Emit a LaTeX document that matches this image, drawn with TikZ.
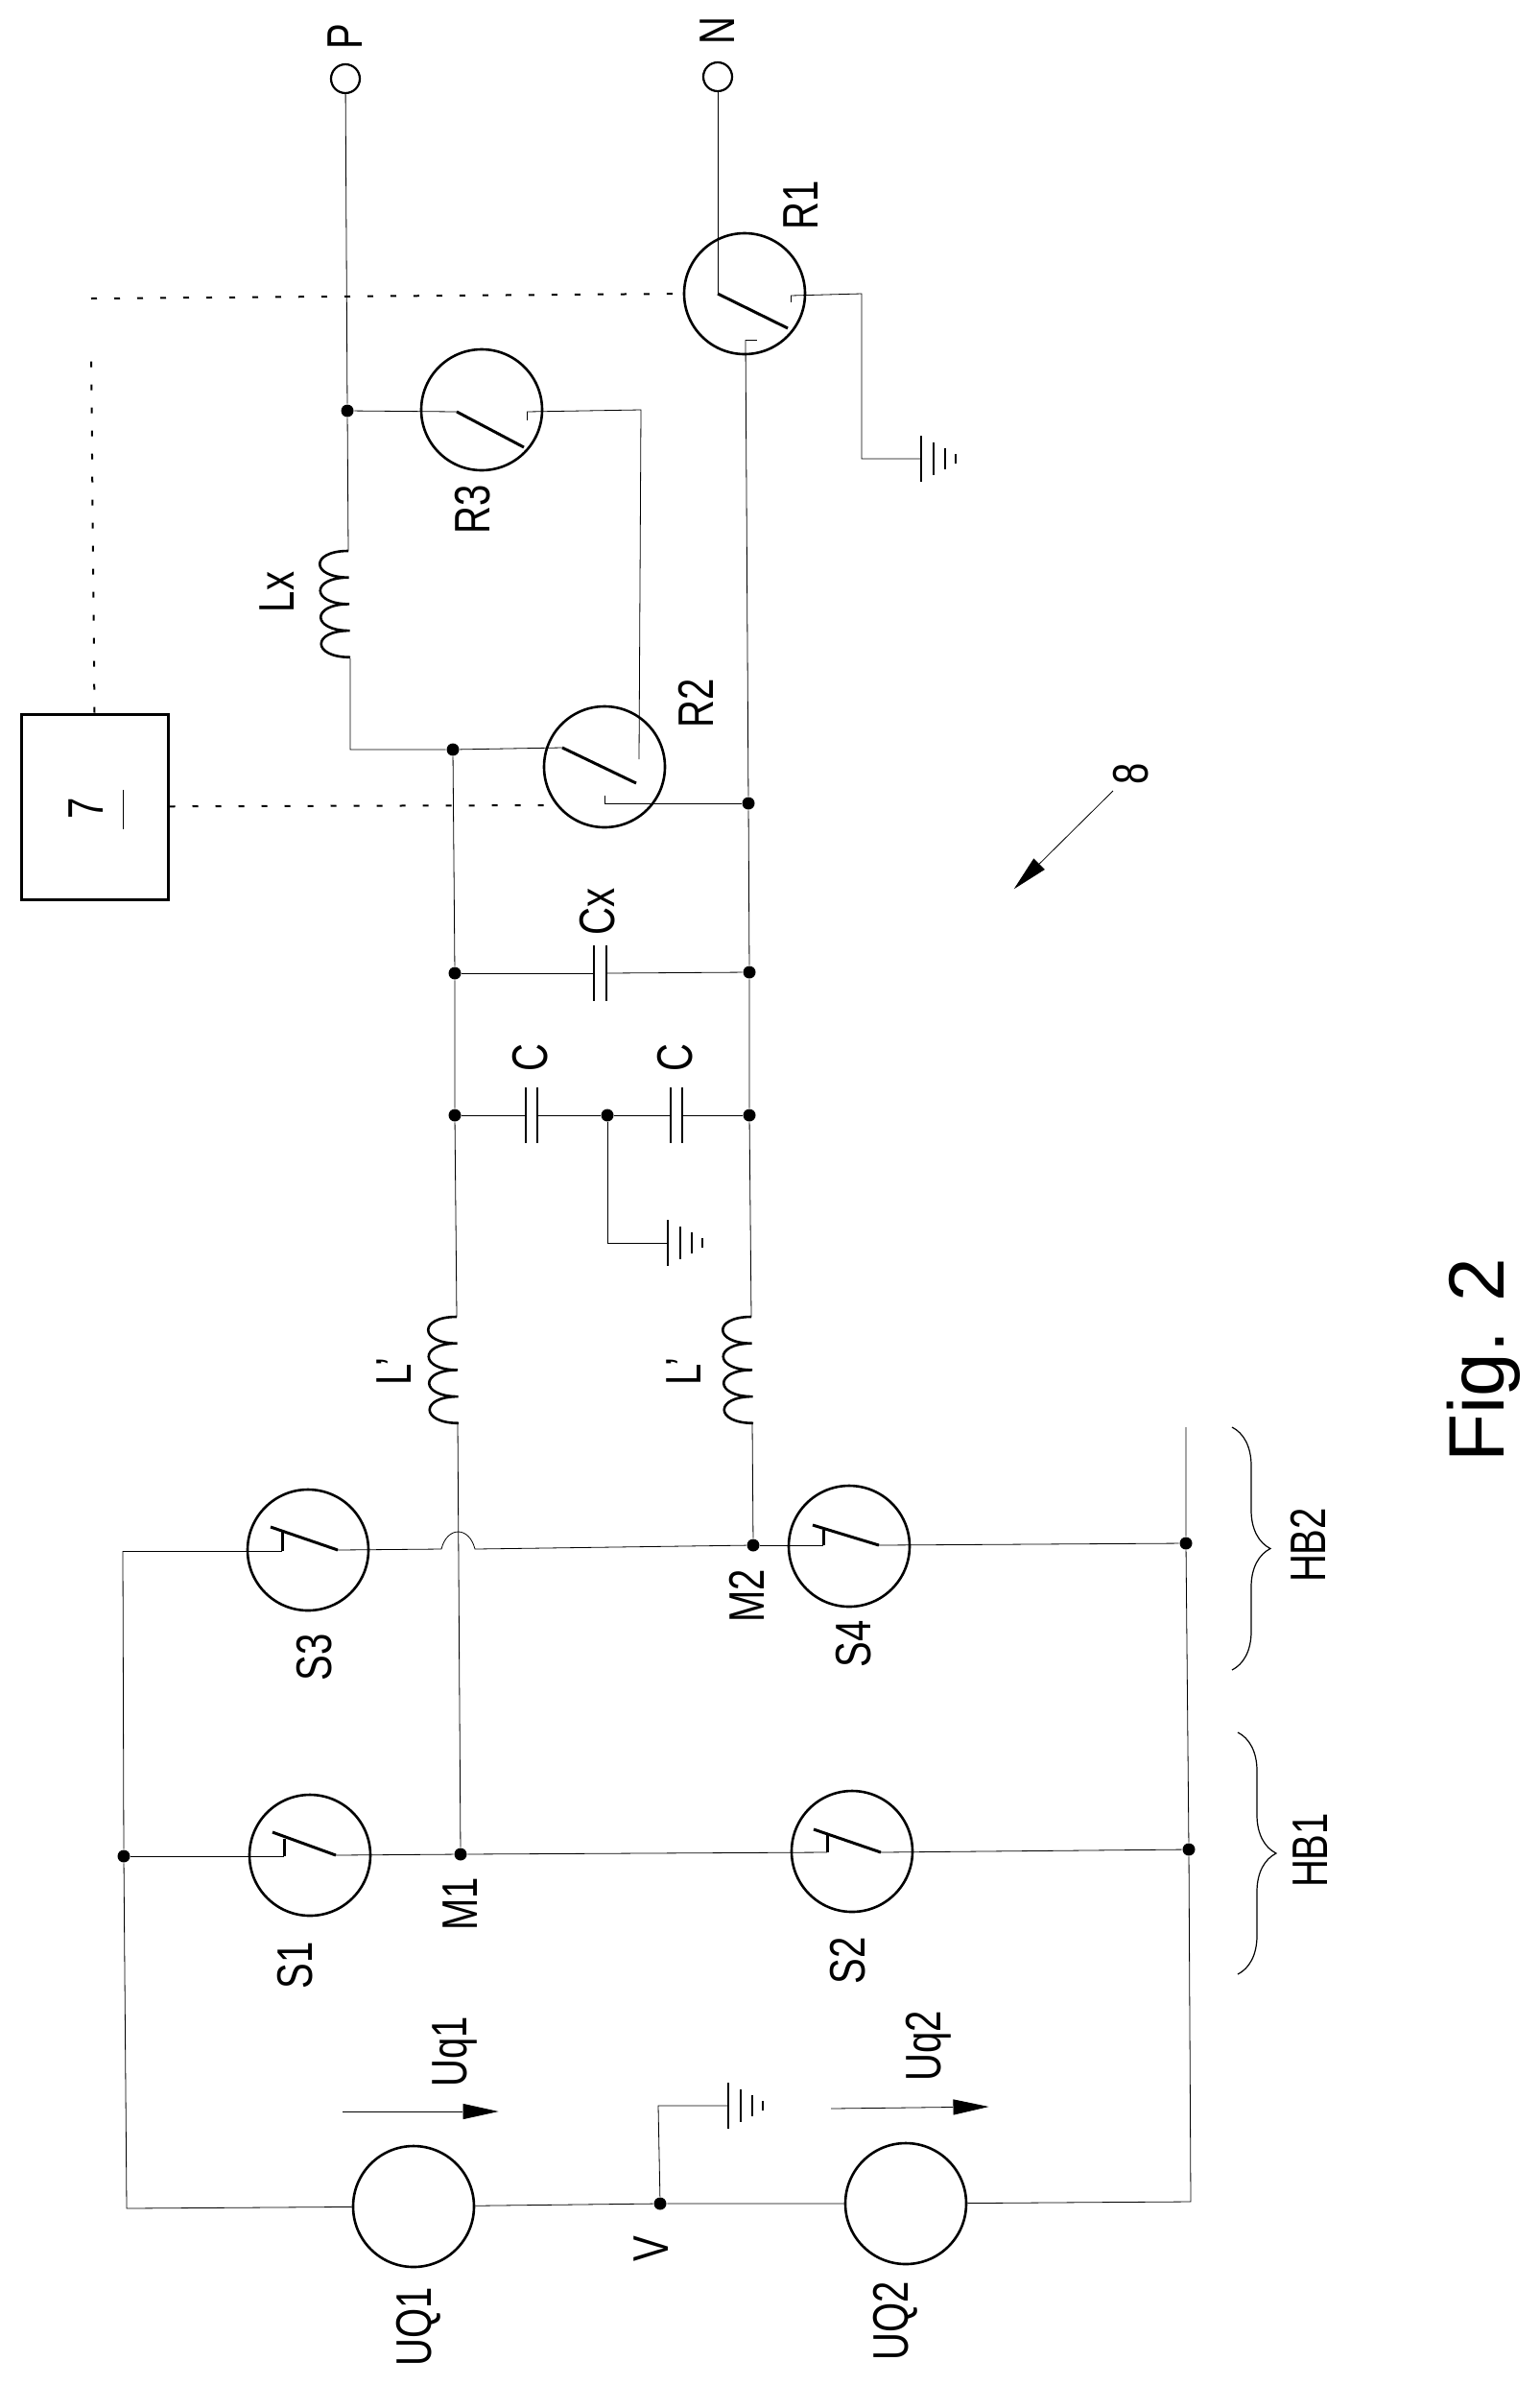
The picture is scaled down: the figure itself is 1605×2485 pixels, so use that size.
\documentclass[tikz,border=0pt]{standalone}
\usepackage{fontspec}
\setmainfont{Liberation Sans}
\usetikzlibrary{arrows.meta,decorations.pathreplacing}
\begin{document}
\begin{tikzpicture}
            \tikzset{x=0.5pt, y=-0.5pt, line width=0.9pt}
            \tikzstyle{rel}=[circle, draw, line width=1.3pt, inner sep=0pt, minimum size=63pt]
            \tikzstyle{term}=[circle, draw, line width=1.1pt, inner sep=0pt, minimum size=15pt]
            \tikzstyle{jnc}=[circle, fill, inner sep=0pt, minimum size=6.5pt]
            \tikzstyle{ctrl}=[rectangle, draw, line width=1.5pt, inner sep=0pt, minimum width=76.5pt, minimum height=96.5pt]
            \tikzstyle{lab}=[rotate=90, xscale=0.77, inner sep=0pt, font=\fontsize{26pt}{26pt}\selectfont]
            \tikzstyle{blade}=[line width=1.5pt]
            \tikzstyle{plate}=[line width=1.2pt]
            \tikzstyle{sig}=[line width=1pt, dash pattern=on 3pt off 9pt]
            \tikzstyle{volt}=[-{Stealth[inset=0pt, length=20pt, width=8.5pt]}]
            \tikzstyle{hbrace}=[line width=0.6pt, decorate, decoration={brace, amplitude=20pt}]

            \useasboundingbox (0, 0) rectangle (1605, 2485);

            \draw (360, 82)     node[term]  (tp)    {};
            \draw (748, 80)     node[term]  (tn)    {};
            \draw (98.5, 840.5) node[ctrl]  (blk)   {};

            \draw (776, 306)    node[rel]   (r1)    {};
            \draw (630, 799)    node[rel]   (r2)    {};
            \draw (502, 427)    node[rel]   (r3)    {};
            \draw (323, 1933)   node[rel]   (s1)    {};
            \draw (888, 1929)   node[rel]   (s2)    {};
            \draw (321, 1615)   node[rel]   (s3)    {};
            \draw (885, 1611)   node[rel]   (s4)    {};
            \draw (431, 2299)   node[rel]   (uq1)   {};
            \draw (944, 2296)   node[rel]   (uq2)   {};

            \draw (362, 428)    node[jnc]   (j0)    {};
            \draw (472, 781)    node[jnc]   (j1)    {};
            \draw (780, 837)    node[jnc]   (j2)    {};
            \draw (474, 1014)   node[jnc]   (j3)    {};
            \draw (781, 1013)   node[jnc]   (j4)    {};
            \draw (474, 1162)   node[jnc]   (j5)    {};
            \draw (633, 1162)   node[jnc]   (j6)    {};
            \draw (781, 1162)   node[jnc]   (j7)    {};
            \draw (480, 1932)   node[jnc]   (m1)    {};
            \draw (785, 1610)   node[jnc]   (m2)    {};
            \draw (129, 1934)   node[jnc]   (j8)    {};
            \draw (1236, 1608)  node[jnc]   (j9)    {};
            \draw (1239, 1927)  node[jnc]   (j10)   {};
            \draw (688, 2296)   node[jnc]   (v)     {};

            \draw (360, 38)     node[lab]   (l0)    {P};
            \draw (748, 32)     node[lab]   (l1)    {N};
            \draw (90, 842)     node[lab]   (l2)    {7};
            \draw (835, 214)    node[lab]   (l3)    {R1};
            \draw (725, 733)    node[lab]   (l4)    {R2};
            \draw (493, 531)    node[lab]   (l5)    {R3};
            \draw (289, 617)    node[lab]   (l6)    {Lx};
            \draw (623, 950)    node[lab]   (l7)    {Cx};
            \draw (553, 1102)   node[lab]   (l8)    {C};
            \draw (704, 1102)   node[lab]   (l9)    {C};
            \draw (411, 1429)   node[lab]   (l10)   {L'};
            \draw (713, 1429)   node[lab]   (l11)   {L'};
            \draw (328, 1727)   node[lab]   (l12)   {S3};
            \draw (890, 1713)   node[lab]   (l13)   {S4};
            \draw (778, 1663)   node[lab]   (l14)   {M2};
            \draw (1363, 1610)  node[lab]   (l15)   {HB2};
            \draw (308, 2048)   node[lab]   (l16)   {S1};
            \draw (884, 2043)   node[lab]   (l17)   {S2};
            \draw (480, 1984)   node[lab]   (l18)   {M1};
            \draw (1366, 1928)  node[lab]   (l19)   {HB1};
            \draw (474, 2138)   node[lab]   (l20)   {Uq1};
            \draw (968, 2132)   node[lab]   (l21)   {Uq2};
            \draw (679, 2343)   node[lab]   (l22)   {V};
            \draw (436, 2424)   node[lab]   (l23)   {UQ1};
            \draw (933, 2418)   node[lab]   (l24)   {UQ2};
            \draw (1179, 806)   node[lab]   (l25)   {8};
            \draw (1567, 1417)  node[rotate=90, anchor=base, inner sep=0pt, font=\fontsize{41pt}{41pt}\selectfont] (fig) {Fig. 2};

            \draw (748, 306)    coordinate  (r1a);
            \draw (821, 342)    coordinate  (r1b);
            \draw (824, 308)    coordinate  (r1c);
            \draw (777, 354)    coordinate  (r1d);
            \draw (898, 306)    coordinate  (r1e);
            \draw (898, 478)    coordinate  (r1f);
            \draw (586, 779)    coordinate  (r2a);
            \draw (663, 816)    coordinate  (r2b);
            \draw (666, 791)    coordinate  (r2c);
            \draw (630, 837)    coordinate  (r2d);
            \draw (476, 429)    coordinate  (r3a);
            \draw (546, 466)    coordinate  (r3b);
            \draw (549, 429)    coordinate  (r3c);
            \draw (668, 427)    coordinate  (r3d);
            \draw (365, 781)    coordinate  (k0);
            \draw (284, 1909)   coordinate  (s1a);
            \draw (350, 1933)   coordinate  (s1b);
            \draw (296, 1934)   coordinate  (s1c);
            \draw (296, 1916)   coordinate  (s1d);
            \draw (848, 1906)   coordinate  (s2a);
            \draw (918, 1930)   coordinate  (s2b);
            \draw (862, 1930)   coordinate  (s2c);
            \draw (862, 1912)   coordinate  (s2d);
            \draw (282, 1591)   coordinate  (s3a);
            \draw (352, 1615)   coordinate  (s3b);
            \draw (294, 1616)   coordinate  (s3c);
            \draw (294, 1595)   coordinate  (s3d);
            \draw (847, 1589)   coordinate  (s4a);
            \draw (916, 1610)   coordinate  (s4b);
            \draw (858, 1610)   coordinate  (s4c);
            \draw (858, 1594)   coordinate  (s4d);
            \draw (128, 1616)   coordinate  (k1);
            \draw (132, 2301)   coordinate  (k2);
            \draw (1241, 2294)  coordinate  (k3);
            \draw (1236, 1487)  coordinate  (k4);
            \draw (460, 1614)   coordinate  (jmpa);
            \draw (495, 1614)   coordinate  (jmpb);
            \draw (363, 574)    coordinate  (lxt);
            \draw (365, 686)    coordinate  (lxb);
            \draw (476, 1372)   coordinate  (lat);
            \draw (477, 1482)   coordinate  (lab);
            \draw (783, 1372)   coordinate  (lbt);
            \draw (784, 1482)   coordinate  (lbb);
            \draw (633, 1295)   coordinate  (g0);
            \draw (686, 2194)   coordinate  (g1);
            \draw (960, 478)    coordinate  (gr);
            \draw (696, 1295)   coordinate  (gc);
            \draw (759, 2194)   coordinate  (gv);
            \draw (619, 1014)   coordinate  (cxa);
            \draw (632, 1014)   coordinate  (cxb);
            \draw (548, 1162)   coordinate  (caa);
            \draw (560, 1162)   coordinate  (cab);
            \draw (699, 1162)   coordinate  (cba);
            \draw (711, 1162)   coordinate  (cbb);
            \draw (95, 367)     coordinate  (ds0);
            \draw (95, 311)     coordinate  (ds1);
            \draw (572, 839)    coordinate  (ds2);
            \draw (128, 823)    coordinate  (u0);
            \draw (128, 864)    coordinate  (u1);
            \draw (357, 2200)   coordinate  (ua0);
            \draw (522, 2200)   coordinate  (ua1);
            \draw (866, 2197)   coordinate  (ub0);
            \draw (1033, 2195)  coordinate  (ub1);
            \draw (1160, 824)   coordinate  (ar0);
            \draw (1055, 928)   coordinate  (ar1);
            \draw (1284, 1487)  coordinate  (hb2a);
            \draw (1284, 1740)  coordinate  (hb2b);
            \draw (1290, 1805)  coordinate  (hb1a);
            \draw (1290, 2057)  coordinate  (hb1b);

            \foreach \coil in {lx, la, lb}
                \draw [line width=1.3pt] (\coil t) \foreach \i in {1,...,4} { .. controls +(-40, 0) and +(-40, 0) .. ++(0.5, 27.7) };

            \foreach \gnd in {gr, gc, gv}
                \foreach \off/\len in {0/24, 13/17, 25/11, 36/5}
                    \draw [plate] (\gnd) ++(\off, -\len) -- ++(0, 2*\len);

            \foreach \cap in {cx, ca, cb} {
                \draw [plate] (\cap a) ++(0, -29) -- ++(0, 58);
                \draw [plate] (\cap b) ++(0, -29) -- ++(0, 58);
            }

            \draw [blade]   (r1a) -- (r1b);
            \draw [blade]   (r2a) -- (r2b);
            \draw [blade]   (r3a) -- (r3b);
            \draw [blade]   (s1a) -- (s1b);
            \draw [blade]   (s2a) -- (s2b);
            \draw [blade]   (s3a) -- (s3b);
            \draw [blade]   (s4a) -- (s4b);
            \draw [blade]   (s1c) -- (s1d);
            \draw [blade]   (s2c) -- (s2d);
            \draw [blade]   (s3c) -- (s3d);
            \draw [blade]   (s4c) -- (s4d);

            \draw           (tp) -- (j0) -- (lxt);
            \draw           (lxb) -- (k0) -- (j1) -- (r2a);
            \draw           (j0) -- (r3a);
            \draw           (r3c) -- (r3d) -- (r2c);
            \draw           (r3c) -- ++(0, 9);
            \draw           (r2d) -- (j2);
            \draw           (r2d) -- ++(0, -8);
            \draw           (tn) -- (r1a);
            \draw           (r1c) -- (r1e) -- (r1f) -- (gr);
            \draw           (r1c) -- ++(0, 7);
            \draw           (r1d) -- (j2) -- (j4) -- (j7) -- (lbt);
            \draw           (r1d) -- ++(12, 0);
            \draw           (j1) -- (j3) -- (j5) -- (lat);
            \draw           (lab) -- (m1);
            \draw           (lbb) -- (m2);
            \draw           (j3) -- (cxa);
            \draw           (cxb) -- (j4);
            \draw           (j5) -- (caa);
            \draw           (cab) -- (j6) -- (cba);
            \draw           (cbb) -- (j7);
            \draw           (j6) -- (g0) -- (gc);

            \draw           (k1) -- (s3c);
            \draw           (s3b) -- (jmpa) .. controls (466, 1590) and (489, 1590) .. (jmpb) -- (m2);
            \draw           (m2) -- (s4c);
            \draw           (s4b) -- (j9);
            \draw           (k4) -- (j9) -- (j10) -- (k3) -- (uq2);
            \draw           (k1) -- (j8) -- (k2) -- (uq1);
            \draw           (j8) -- (s1c);
            \draw           (s1b) -- (m1) -- (s2c);
            \draw           (s2b) -- (j10);
            \draw           (uq1) -- (v) -- (uq2);
            \draw           (v) -- (g1) -- (gv);

            \draw [sig]     (blk) -- (ds2);
            \draw [sig]     (blk.north) -- (ds0);
            \draw [sig]     (ds1) -- (r1.west);
            \draw           (u0) -- (u1);

            \draw [volt]    (ua0) -- (ua1);
            \draw [volt]    (ub0) -- (ub1);
            \draw [volt]    (ar0) -- (ar1);

            \draw [hbrace]  (hb2a) -- (hb2b);
            \draw [hbrace]  (hb1a) -- (hb1b);
\end{tikzpicture}
\end{document}
